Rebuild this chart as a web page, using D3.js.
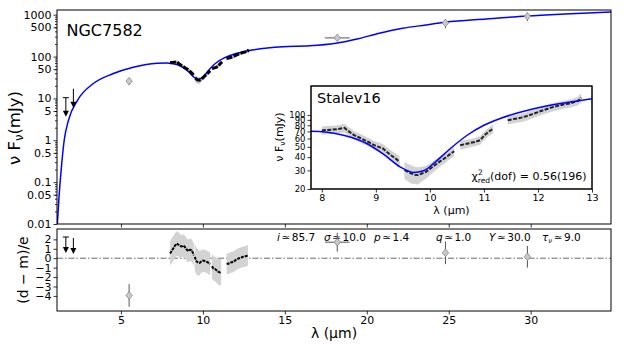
<!DOCTYPE html>
<html>
<head>
<meta charset="utf-8">
<script src="https://cdn.jsdelivr.net/npm/d3@7"></script>
<style>
body { margin: 0; background: #fff; }
svg text { font-family: "DejaVu Sans", sans-serif; fill: #000; }
</style>
</head>
<body>
<div id="chart"></div>
<script>
// model SED (wavelength in micron, nuFnu in mJy)
var modelLam = [1.12, 1.21, 1.37, 1.54, 1.8, 2.35, 3.3, 4.5, 5.75, 7.2, 7.8, 8.4, 8.83, 9.14, 9.45, 9.7, 9.88,
    10.07, 10.38, 10.69, 11.0, 11.3, 11.92, 12.54, 13.0, 14.88, 16.5, 18.12, 19.34, 20.76, 22.18, 23.6,
    24.8, 27.3, 29.8, 32.1, 34.9];
var modelFlux = [0.01, 0.037, 0.23, 1.0, 3.0, 9.0, 22.4, 38.7, 55.6, 69.3, 70.2, 64.4, 53.8, 42.7, 32.4, 28.7, 29.7,
    34.9, 48.3, 64.4, 80, 92.6, 114.8, 131.6, 142.6, 172, 180, 207, 258, 360, 473, 568,
    658, 789, 931, 1040, 1165];

// Stalev16 spectrum (null = gap)
var specLam = [8.0, 8.1, 8.2, 8.3, 8.42, 8.5, 8.6, 8.7, 8.79, 8.88, 8.97, 9.05, 9.13, 9.2, 9.28, 9.36, 9.44,
    9.5, 9.53, 9.6, 9.65, 9.72, 9.78, 9.85, 9.93, 10.0, 10.09, 10.18, 10.27, 10.33, 10.39, 10.45,
    10.5, 10.56, 10.65, 10.75, 10.83, 10.93, 11.01, 11.08, 11.17,
    11.3, 11.44, 11.55, 11.69, 11.8, 11.9, 12.0, 12.12, 12.25, 12.37, 12.49, 12.6, 12.74, 12.8];
var specFlux = [71.5, 72.3, 72.8, 73.6, 75.5, 70, 64.4, 61, 57.9, 55, 51.9, 50, 48.3, 45, 41.7, 39, 36.1,
    null, 30.2, 29, 28.1, 27.3, 27.1, 28, 29.1, 31, 33.6, 36.3, 38.9, 41, 43.3, 45.5,
    null, 51.9, 53, 54.5, 55.7, 57.9, 64.4, 69, 74.4,
    null, 89.3, 91.5, 94.5, 98, 102, 106.6, 112, 118, 122, 126.3, 129, 136, 146];
var specErr = [6.5, 6.5, 6.5, 6.5, 7, 6.5, 6, 6, 5.5, 5, 5, 5, 5, 5, 4.5, 4.5, 5,
    0, 5.5, 5.5, 5.5, 5, 5, 4.5, 4, 4, 4, 4, 4, 4, 4.5, 4.5,
    0, 5, 5, 5, 5, 5.5, 6, 6.5, 7,
    0, 8, 8, 8.5, 9, 9, 9.5, 10, 10.5, 11, 11, 11.5, 13, 15];

// photometry
var photLam = [5.5, 18.2, 24.8, 29.8];
var photLamErr = [0, 0.75, 0, 0];
var photFlux = [25.8, 279, 634, 912];
var photErr = [5, 40, 160, 210];

// upper limits
var limLam = [1.64, 2.1];
var limFlux = [10.4, 17];
var limCap = [true, false];

// residuals (d - m)/e
var resLam = [8.0, 8.1, 8.2, 8.3, 8.4, 8.5, 8.6, 8.7, 8.8, 8.9, 9.0, 9.1, 9.2, 9.3, 9.4, 9.45,
    9.48, 9.5, 9.6, 9.7, 9.8, 9.9, 10.0, 10.1, 10.2, 10.3, 10.45,
    10.5, 10.55, 10.65, 10.75, 10.85, 10.95, 11.05, 11.12,
    11.3, 11.45, 11.55, 11.7, 11.85, 12.0, 12.15, 12.3, 12.45, 12.6, 12.75];
var resVal = [0.5, 0.8, 1.05, 1.35, 1.55, 1.45, 1.3, 1.25, 1.35, 1.2, 0.95, 0.75, 0.9, 0.85, 0.55, 0.3,
    null, 0.15, -0.3, -0.45, -0.5, -0.35, -0.25, -0.3, -0.35, -0.45, -0.6,
    null, -0.85, -1.1, -1.15, -1.3, -1.45, -1.5, -1.4,
    null, -0.55, -0.6, -0.45, -0.4, -0.2, -0.05, 0.05, 0.15, 0.2, 0.3];
var resErr = [1.3, 1.3, 1.3, 1.3, 1.3, 1.3, 1.3, 1.2, 1.2, 1.2, 1.2, 1.2, 1.2, 1.2, 1.2, 1.2,
    0, 1.4, 1.4, 1.4, 1.3, 1.2, 1.2, 1.2, 1.2, 1.2, 1.2,
    0, 1.3, 1.3, 1.3, 1.35, 1.4, 1.4, 1.4,
    0, 1.1, 1.1, 1.1, 1.1, 1.1, 1.1, 1.1, 1.1, 1.1, 1.1];
var photRes = [-3.95, 1.7, 0.57, 0.15];
var photResErr = [1.2, 1.0, 1.2, 1.15];
var limRes = [2.25, 2.15];

// ticks
var fluxTicks = [0.01, 0.05, 0.1, 0.5, 1, 5, 10, 50, 100, 500, 1000];
var lamTicks = [5, 10, 15, 20, 25, 30];
var resTicks = [-4, -3, -2, -1, 0, 1, 2];
var insetLamTicks = [8, 9, 10, 11, 12, 13];
var insetFluxTicks = [20, 30, 40, 50, 60, 70, 80, 90, 100];

// fit parameters
var paramNames = ['i', 'σ', 'p', 'q', 'Y', 'τ'];
var paramValues = [85.7, 10.0, 1.4, 1.0, 30.0, 9.0];
var chi2 = 0.56;
var dof = 196;

// ---------------------------------------------------------------
var W = 623, H = 346;
var main = {left: 57, right: 611, top: 10, bottom: 224};
var res = {top: 229, bottom: 311};
var ins = {left: 311, right: 592, top: 86, bottom: 189};

var svg = d3.select('#chart').append('svg')
    .attr('width', W).attr('height', H);

var x = d3.scaleLinear().domain([1.1, 34.9]).range([main.left, main.right]);
var y = d3.scaleLog().domain([0.01, 1294]).range([main.bottom, main.top]);
var yr = d3.scaleLinear().domain([-5.6, 3.1]).range([res.bottom, res.top]);
var xi = d3.scaleLinear().domain([7.8, 13]).range([ins.left, ins.right]);
var yi = d3.scaleLog().domain([20, 188]).range([ins.bottom, ins.top]);

var defs = svg.append('defs');
function clip(id, l, t, r, b) {
    defs.append('clipPath').attr('id', id).append('rect')
        .attr('x', l).attr('y', t).attr('width', r - l).attr('height', b - t);
}
clip('cmain', main.left, main.top, main.right, main.bottom);
clip('cres', main.left, res.top, main.right, res.bottom);
clip('cins', ins.left, ins.top, ins.right, ins.bottom);

var model = modelLam.map(function(l, i) { return {lam: l, f: modelFlux[i]}; });
var spec = specLam.map(function(l, i) { return {lam: l, f: specFlux[i], e: specErr[i]}; });
var resid = resLam.map(function(l, i) { return {lam: l, r: resVal[i], e: resErr[i]}; });

function diamond(g, cx, cy) {
    g.append('path')
        .attr('d', 'M' + cx + ',' + (cy - 3.8) + 'L' + (cx + 3.2) + ',' + cy + 'L' + cx + ',' + (cy + 3.8) +
            'L' + (cx - 3.2) + ',' + cy + 'Z')
        .attr('fill', '#c8c8c8').attr('stroke', '#8a8a8a').attr('stroke-width', 0.8);
}

function vline(g, x0, y0, y1, col) {
    g.append('line').attr('x1', x0).attr('x2', x0).attr('y1', y0).attr('y2', y1)
        .attr('stroke', col).attr('stroke-width', 1);
}
function hline(g, x0, x1, y0, col) {
    g.append('line').attr('x1', x0).attr('x2', x1).attr('y1', y0).attr('y2', y0)
        .attr('stroke', col).attr('stroke-width', 1);
}

function arrowDown(g, cx, top, len, cap) {
    vline(g, cx, top, top + len - 4, '#000');
    g.append('path')
        .attr('d', 'M' + (cx - 3) + ',' + (top + len - 6) + 'L' + (cx + 3) + ',' + (top + len - 6) +
            'L' + cx + ',' + (top + len) + 'Z')
        .attr('fill', '#000');
    if (cap) hline(g, cx - 3, cx + 3, top, '#000');
}

// ---------------- main panel ----------------
var gm = svg.append('g').attr('clip-path', 'url(#cmain)');

gm.append('path')
    .datum(spec)
    .attr('d', d3.area().defined(function(d) { return d.f != null; })
        .x(function(d) { return x(d.lam); })
        .y0(function(d) { return y(d.f - d.e); })
        .y1(function(d) { return y(d.f + d.e); }))
    .attr('fill', '#c8c8c8');

gm.append('path')
    .datum(model)
    .attr('d', d3.line().curve(d3.curveMonotoneX)
        .x(function(d) { return x(d.lam); })
        .y(function(d) { return y(d.f); }))
    .attr('fill', 'none').attr('stroke', '#0000ff').attr('stroke-width', 1.5);

gm.append('path')
    .datum(spec)
    .attr('d', d3.line().defined(function(d) { return d.f != null; })
        .x(function(d) { return x(d.lam); })
        .y(function(d) { return y(d.f); }))
    .attr('fill', 'none').attr('stroke', '#000').attr('stroke-width', 3)
    .attr('stroke-dasharray', '6,1.5');

photLam.forEach(function(l, i) {
    var cx = x(l), cy = y(photFlux[i]);
    vline(gm, cx, y(photFlux[i] - photErr[i]), y(photFlux[i] + photErr[i]), '#555');
    if (photLamErr[i] > 0) hline(gm, x(l - photLamErr[i]), x(l + photLamErr[i]), cy, '#555');
    diamond(gm, cx, cy);
});

limLam.forEach(function(l, i) {
    arrowDown(gm, x(l), y(limFlux[i]), 19, limCap[i]);
});

// ---------------- residual panel ----------------
var gr = svg.append('g').attr('clip-path', 'url(#cres)');

gr.append('line')
    .attr('x1', main.left).attr('x2', main.right)
    .attr('y1', yr(0)).attr('y2', yr(0))
    .attr('stroke', '#444').attr('stroke-width', 0.8)
    .attr('stroke-dasharray', '6,2,1.5,2');

gr.append('path')
    .datum(resid)
    .attr('d', d3.area().defined(function(d) { return d.r != null; })
        .x(function(d) { return x(d.lam); })
        .y0(function(d) { return yr(d.r - d.e); })
        .y1(function(d) { return yr(d.r + d.e); }))
    .attr('fill', '#d3d3d3');

gr.append('path')
    .datum(resid)
    .attr('d', d3.line().defined(function(d) { return d.r != null; })
        .x(function(d) { return x(d.lam); })
        .y(function(d) { return yr(d.r); }))
    .attr('fill', 'none').attr('stroke', '#000').attr('stroke-width', 2)
    .attr('stroke-dasharray', '3,1');

// parameter labels (drawn below the residual markers)
var fmt1 = d3.format('.1f');
var paramX = [277, 324, 374, 436, 489, 542];
var gp = svg.insert('g', function() { return gr.node(); });
paramNames.forEach(function(n, i) {
    var t = gp.append('text').attr('x', paramX[i]).attr('y', 240.5).attr('font-size', 10.5);
    t.append('tspan').attr('font-style', 'italic').text(n);
    if (n === 'τ') t.append('tspan').attr('font-size', 7).attr('dy', 2.5).attr('font-style', 'italic').text('ν');
    t.append('tspan').attr('dx', 1.5).attr('dy', n === 'τ' ? -2.5 : 0).text('≃');
    t.append('tspan').attr('dx', 1.5).text(fmt1(paramValues[i]));
});

photLam.forEach(function(l, i) {
    var cx = x(l), cy = yr(photRes[i]);
    vline(gr, cx, yr(photRes[i] - photResErr[i]), yr(photRes[i] + photResErr[i]), '#555');
    if (photLamErr[i] > 0) hline(gr, x(l - photLamErr[i]), x(l + photLamErr[i]), cy, '#555');
    diamond(gr, cx, cy);
});

limLam.forEach(function(l, i) {
    arrowDown(gr, x(l), yr(limRes[i]), 16, limCap[i]);
});

// ---------------- frames and axes ----------------
function frame(l, t, r, b, fill) {
    svg.append('rect').attr('x', l).attr('y', t).attr('width', r - l).attr('height', b - t)
        .attr('fill', fill || 'none').attr('stroke', '#000').attr('stroke-width', 1);
}
frame(main.left, main.top, main.right, main.bottom);
frame(main.left, res.top, main.right, res.bottom);

function styleAxis(g, fs) {
    g.select('.domain').remove();
    g.selectAll('line').attr('stroke', '#000').attr('stroke-width', 0.8);
    g.selectAll('text').attr('font-size', fs).attr('font-family', '"DejaVu Sans", sans-serif').attr('fill', '#000');
}

// main y: minor ticks
var minor = [];
[-2, -1, 0, 1, 2, 3].forEach(function(e) {
    for (var k = 2; k <= 9; k++) {
        var v = k * Math.pow(10, e);
        if (v < 1294) minor.push(v);
    }
});
var gym = svg.append('g').attr('transform', 'translate(' + main.left + ',0)')
    .call(d3.axisLeft(y).tickValues(minor).tickSize(2).tickFormat(''));
styleAxis(gym, 11);
var gy = svg.append('g').attr('transform', 'translate(' + main.left + ',0)')
    .call(d3.axisLeft(y).tickValues(fluxTicks).tickSize(3.5).tickPadding(2).tickFormat(d3.format('~g')));
styleAxis(gy, 11);

var gx = svg.append('g').attr('transform', 'translate(0,' + main.bottom + ')')
    .call(d3.axisBottom(x).tickValues(lamTicks).tickSize(3.5).tickFormat(''));
styleAxis(gx, 11);

var gxr = svg.append('g').attr('transform', 'translate(0,' + res.bottom + ')')
    .call(d3.axisBottom(x).tickValues(lamTicks).tickSize(3.5).tickPadding(2).tickFormat(d3.format('d')));
styleAxis(gxr, 11);

var gyr = svg.append('g').attr('transform', 'translate(' + main.left + ',0)')
    .call(d3.axisLeft(yr).tickValues(resTicks).tickSize(3.5).tickPadding(2).tickFormat(d3.format('d')));
styleAxis(gyr, 11);

// main texts
svg.append('text').attr('x', 66.5).attr('y', 35.5).attr('font-size', 16).text('NGC7582');

function fluxLabel(cx, cy, fs) {
    var t = svg.append('text').attr('transform', 'translate(' + cx + ',' + cy + ')rotate(-90)')
        .attr('text-anchor', 'middle').attr('font-size', fs);
    t.append('tspan').text('ν F');
    t.append('tspan').attr('font-size', fs * 0.7).attr('dy', fs * 0.2).text('ν');
    t.append('tspan').attr('dy', -fs * 0.2).text('(mJy)');
}
function lamLabel(cx, cy, fs) {
    svg.append('text').attr('x', cx).attr('y', cy).attr('text-anchor', 'middle')
        .attr('font-size', fs).text('λ (μm)');
}
fluxLabel(19.5, 128, 16.5);
lamLabel(334, 338, 14);
svg.append('text').attr('transform', 'translate(27.5,270)rotate(-90)')
    .attr('text-anchor', 'middle').attr('font-size', 14).text('(d − m)/e');

// ---------------- inset ----------------
frame(ins.left, ins.top, ins.right, ins.bottom, '#fff');
var gi = svg.append('g').attr('clip-path', 'url(#cins)');

gi.append('path')
    .datum(spec)
    .attr('d', d3.area().defined(function(d) { return d.f != null; })
        .x(function(d) { return xi(d.lam); })
        .y0(function(d) { return yi(d.f - d.e); })
        .y1(function(d) { return yi(d.f + d.e); }))
    .attr('fill', '#d3d3d3');

gi.append('path')
    .datum(spec)
    .attr('d', d3.line().defined(function(d) { return d.f != null; })
        .x(function(d) { return xi(d.lam); })
        .y(function(d) { return yi(d.f); }))
    .attr('fill', 'none').attr('stroke', '#222').attr('stroke-width', 2)
    .attr('stroke-dasharray', '4,1.5');

gi.append('path')
    .datum(model)
    .attr('d', d3.line().curve(d3.curveMonotoneX)
        .x(function(d) { return xi(d.lam); })
        .y(function(d) { return yi(d.f); }))
    .attr('fill', 'none').attr('stroke', '#0000ff').attr('stroke-width', 1.5);

frame(ins.left, ins.top, ins.right, ins.bottom);

var gxi = svg.append('g').attr('transform', 'translate(0,' + ins.bottom + ')')
    .call(d3.axisBottom(xi).tickValues(insetLamTicks).tickSize(3.5).tickPadding(2).tickFormat(d3.format('d')));
styleAxis(gxi, 9.5);
var gyi = svg.append('g').attr('transform', 'translate(' + ins.left + ',0)')
    .call(d3.axisLeft(yi).tickValues(insetFluxTicks).tickSize(3.5).tickPadding(2).tickFormat(d3.format('d')));
styleAxis(gyi, 8.5);

svg.append('text').attr('x', 317).attr('y', 102.5).attr('font-size', 14.5).text('Stalev16');
fluxLabel(283, 137, 11);
lamLabel(451.5, 214, 11);

// chi^2 label
var chi = svg.append('text').attr('x', 586.5).attr('y', 180).attr('font-size', 11).attr('text-anchor', 'end');
chi.append('tspan').text('χ');
chi.append('tspan').attr('font-size', 7.5).attr('dy', 3).text('red');
chi.append('tspan').attr('dy', -3).text('(dof) = ' + d3.format('.2f')(chi2) + '(' + dof + ')');
var chiBox = chi.node().getBBox();
svg.append('text').attr('x', chiBox.x + 6.5).attr('y', 175).attr('font-size', 7.5).text('2');
</script>
</body>
</html>
